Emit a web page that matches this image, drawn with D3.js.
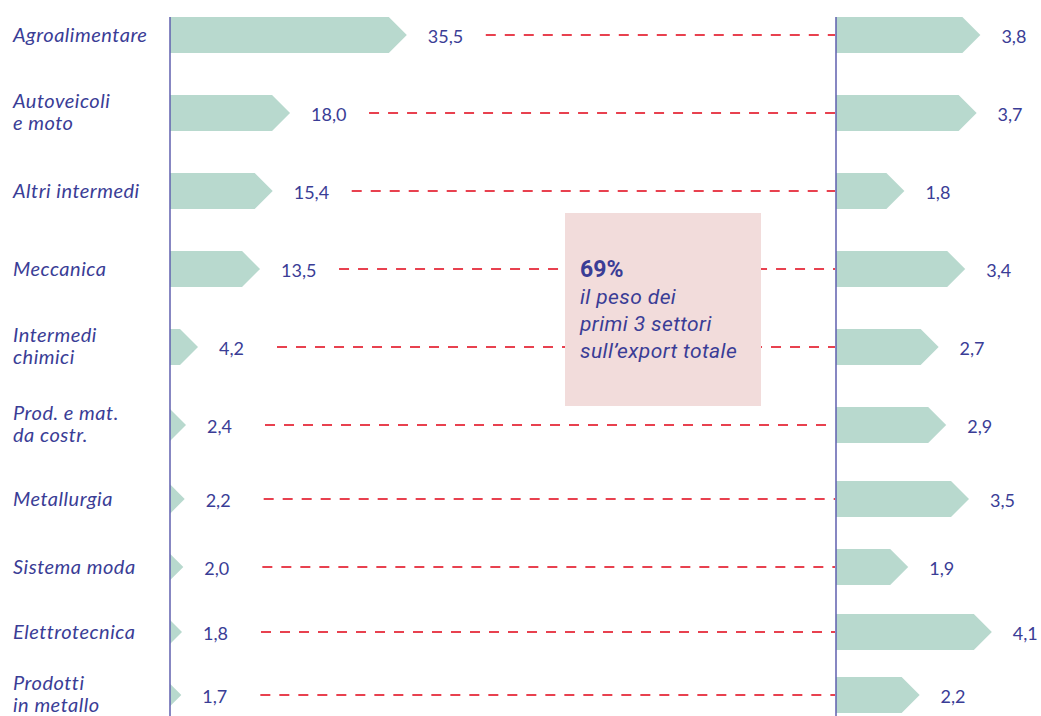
<!DOCTYPE html>
<html>
<head>
<meta charset="utf-8">
<script src="https://cdn.jsdelivr.net/npm/d3@7/dist/d3.min.js"></script>
<style>
html,body{margin:0;padding:0;background:#fff;}
svg{display:block;}
</style>
</head>
<body>
<svg id="chart" width="1041" height="716"></svg>
<script>
const categories = [
  ["Agroalimentare"],
  ["Autoveicoli","e moto"],
  ["Altri intermedi"],
  ["Meccanica"],
  ["Intermedi","chimici"],
  ["Prod. e mat.","da costr."],
  ["Metallurgia"],
  ["Sistema moda"],
  ["Elettrotecnica"],
  ["Prodotti","in metallo"]
];
const leftValues  = [35.5, 18.0, 15.4, 13.5, 4.2, 2.4, 2.2, 2.0, 1.8, 1.7];
const rightValues = [3.8, 3.7, 1.8, 3.4, 2.7, 2.9, 3.5, 1.9, 4.1, 2.2];
const noteTitle = "69%";
const noteLines = ["il peso dei","primi 3 settori","sull’export totale"];

const TEXT = "#3a3d96";
const BAR = "#b8d9ce";
const RED = "#e8414f";
const AXIS = "#5f5fae";
const BOX = "#f2dcdb";

const svg = d3.select("#chart");
const fmt = v => d3.format(".1f")(v).replace(".", ",");

const leftX0 = 170, rightX0 = 836;
const xL = d3.scaleLinear().domain([0, 1]).range([leftX0, leftX0 + 6.67]);
const xR = d3.scaleLinear().domain([0, 1]).range([rightX0, rightX0 + 38]);
const y = d3.scaleLinear().domain([0, 5, 6, 7, 8, 9]).range([35, 425, 499, 567, 632, 695]);
const barH = 36, tipD = 18;

function arrow(x0, x1, cy) {
  const L = x1 - x0, h = barH / 2;
  if (L >= tipD) {
    return `M${x0},${cy-h}L${x1-tipD},${cy-h}L${x1},${cy}L${x1-tipD},${cy+h}L${x0},${cy+h}Z`;
  }
  return `M${x0},${cy-L}L${x1},${cy}L${x0},${cy+L}Z`;
}

const rows = categories.map((c, i) => ({c, l: leftValues[i], r: rightValues[i], i}));

// dashed connectors
svg.append("g").selectAll("line").data(rows).join("line")
  .attr("x1", d => xL(d.l) + 79).attr("x2", rightX0 - 1)
  .attr("y1", d => y(d.i)).attr("y2", d => y(d.i))
  .attr("stroke", RED).attr("stroke-width", 2).attr("stroke-dasharray", "10,9");

// annotation box
const note = svg.append("g");
note.append("rect").attr("x", 565).attr("y", 213).attr("width", 196).attr("height", 193).attr("fill", BOX);
note.append("text").attr("x", 580).attr("y", 277).text(noteTitle)
  .attr("font-family", "Roboto, sans-serif").attr("font-weight", 700).attr("font-size", 23).attr("fill", TEXT);
note.selectAll("text.nl").data(noteLines).join("text").attr("class","nl")
  .attr("x", 580).attr("y", (d, i) => 304 + i * 27).text(d => d)
  .attr("font-family", "Roboto, sans-serif").attr("font-style", "italic").attr("font-size", 21)
  .attr("letter-spacing", 0.4).attr("fill", TEXT);

// bars
svg.append("g").selectAll("path").data(rows).join("path")
  .attr("d", d => arrow(xL(0), xL(d.l), y(d.i))).attr("fill", BAR);
svg.append("g").selectAll("path").data(rows).join("path")
  .attr("d", d => arrow(xR(0), xR(d.r), y(d.i))).attr("fill", BAR);

// axes
[leftX0, rightX0].forEach(x => {
  svg.append("line").attr("x1", x).attr("x2", x).attr("y1", 17).attr("y2", 716)
    .attr("stroke", AXIS).attr("stroke-width", 1.5);
});

// value labels
const valStyle = sel => sel.attr("font-family", "Lato, sans-serif").attr("font-size", 18)
  .attr("fill", TEXT).attr("dominant-baseline", "central");
svg.append("g").selectAll("text").data(rows).join("text")
  .attr("x", d => xL(d.l) + 21).attr("y", d => y(d.i) + 1).text(d => fmt(d.l)).call(valStyle);
svg.append("g").selectAll("text").data(rows).join("text")
  .attr("x", d => xR(d.r) + 21).attr("y", d => y(d.i) + 1).text(d => fmt(d.r)).call(valStyle);

// category labels
const lab = svg.append("g").selectAll("text").data(rows).join("text")
  .attr("font-family", "Lato, sans-serif").attr("font-style", "italic").attr("font-size", 20)
  .attr("letter-spacing", 0.5).attr("fill", TEXT).attr("dominant-baseline", "central");
lab.each(function(d) {
  const n = d.c.length;
  d3.select(this).selectAll("tspan").data(d.c).join("tspan")
    .attr("x", 13).attr("y", (t, k) => y(d.i) - (n > 1 ? 2 : 1) + (k - (n - 1) / 2) * 22).text(t => t);
});
</script>
</body>
</html>
